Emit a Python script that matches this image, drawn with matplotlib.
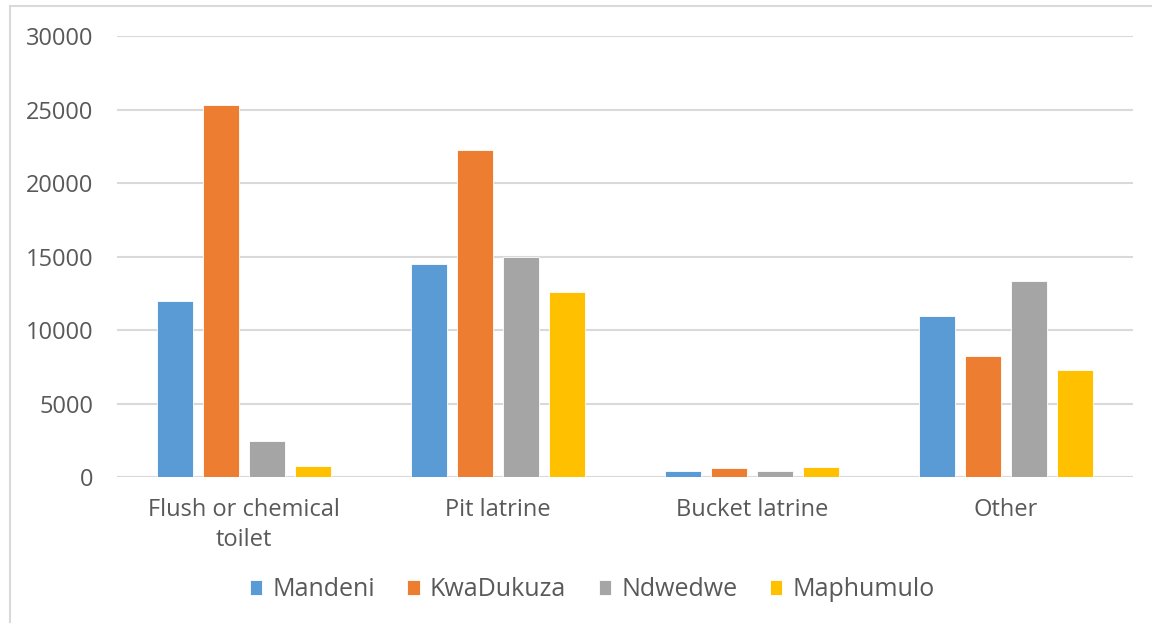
import matplotlib.pyplot as plt
import numpy as np
from matplotlib.patches import Rectangle

categories = ["Flush or chemical\ntoilet", "Pit latrine", "Bucket latrine", "Other"]
municipalities = ["Mandeni", "KwaDukuza", "Ndwedwe", "Maphumulo"]
mandeni = [12000, 14500, 420, 10950]
kwadukuza = [25300, 22250, 590, 8250]
ndwedwe = [2450, 14950, 390, 13350]
maphumulo = [750, 12600, 680, 7280]
colors = ["#5B9BD5", "#ED7D31", "#A5A5A5", "#FFC000"]

plt.rcParams["font.family"] = ["Open Sans", "DejaVu Sans"]
text_color = "#595959"

fig = plt.figure(figsize=(11.52, 6.23), dpi=100)
ax = fig.add_axes([0.1016, 0.2343, 0.8819, 0.7079])

x = np.arange(len(categories))
width = 0.142
step = 0.181
series = [mandeni, kwadukuza, ndwedwe, maphumulo]
for i, (name, vals, c) in enumerate(zip(municipalities, series, colors)):
    ax.bar(x + (i - 1.5) * step, vals, width, color=c, label=name,
           edgecolor="white", linewidth=0.6, zorder=3)

ax.set_xlim(-0.5, len(categories) - 0.5)
ax.set_ylim(0, 30000)
ax.set_yticks(range(0, 30001, 5000))
ax.yaxis.grid(True, color="#D9D9D9", linewidth=1.5, zorder=0)
ax.set_axisbelow(True)
for s in ax.spines.values():
    s.set_visible(False)
ax.axhline(0, color="#D9D9D9", linewidth=1.5, zorder=1)

ax.set_xticks(x)
ax.set_xticklabels(categories, linespacing=1.35)
ax.tick_params(axis="both", length=0, labelsize=17, colors=text_color)
ax.tick_params(axis="x", pad=15)
ax.tick_params(axis="y", pad=17)

handles, labels = ax.get_legend_handles_labels()
leg = fig.legend(handles, labels, loc="center", bbox_to_anchor=(0.514, 0.053),
                 ncol=4, frameon=False, fontsize=18, handlelength=0.5,
                 handleheight=0.5, handletextpad=0.4, columnspacing=1.3)
for t in leg.get_texts():
    t.set_color(text_color)

# chart area border
fig.patches.append(Rectangle((10 / 1152, -0.05), 1.1, 1 - 6 / 623 + 0.05,
                             transform=fig.transFigure, fill=False,
                             edgecolor="#D9D9D9", linewidth=1.5))

fig.savefig("out.png", dpi=100)
